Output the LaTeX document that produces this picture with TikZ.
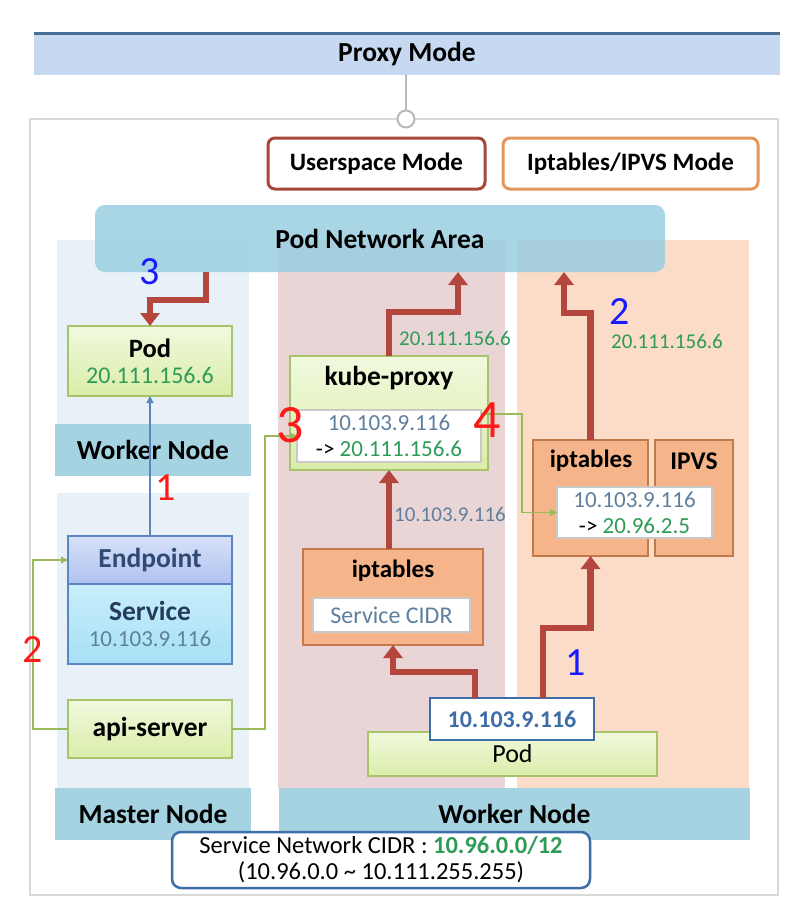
\documentclass[tikz,border=0pt]{standalone}
\usepackage{fontspec}
\setmainfont{Carlito}
\usetikzlibrary{arrows.meta,positioning,calc}
\definecolor{bannerfill}{HTML}{C6D9F1}
\definecolor{bannerline}{HTML}{4A6F96}
\definecolor{framegray}{HTML}{D9D9D9}
\definecolor{userred}{HTML}{A5473B}
\definecolor{iporange}{HTML}{E3975D}
\definecolor{leftbg}{HTML}{E9F1F8}
\definecolor{midbg}{HTML}{EAD5D6}
\definecolor{rightbg}{HTML}{FADCC8}
\definecolor{bandblue}{HTML}{A5D3E1}
\definecolor{pnablue}{HTML}{9ACFE0}
\definecolor{boxgreen}{HTML}{A8C46A}
\definecolor{gtop}{HTML}{F1F9DE}
\definecolor{gbot}{HTML}{DAEDA9}
\definecolor{ofill}{HTML}{F5B48A}
\definecolor{obord}{HTML}{C27A4A}
\definecolor{wbord}{HTML}{C9C9C9}
\definecolor{epborder}{HTML}{5B86C0}
\definecolor{eptop}{HTML}{D7E0F8}
\definecolor{epbot}{HTML}{AFC2F0}
\definecolor{svtop}{HTML}{C9EEFB}
\definecolor{svbot}{HTML}{A6E0F5}
\definecolor{eptext}{HTML}{2F4A73}
\definecolor{iptext}{HTML}{5F7F9E}
\definecolor{ipgreen}{HTML}{2E9B57}
\definecolor{arrred}{HTML}{B5463E}
\definecolor{linegreen}{HTML}{9BBB59}
\definecolor{ipblue}{HTML}{3E6DA8}
\definecolor{penred}{HTML}{FF1A1A}
\definecolor{penblue}{HTML}{1A1AFF}
\newcommand\ttlfont{\fontsize{27.5}{30}\selectfont\bfseries}
\newcommand\subfont{\fontsize{25}{28}\selectfont\bfseries}
\newcommand\ipfont{\fontsize{23}{26}\selectfont}
\newcommand\lblfont{\fontsize{21}{24}\selectfont}
\newcommand\notefont{\fontsize{40}{40}\selectfont}
\begin{document}
\begin{tikzpicture}[x=1pt,y=-1pt,
  every node/.style={inner sep=0pt, outer sep=0pt, align=center},
  band/.style={fill=bandblue, font=\ttlfont, minimum height=52pt},
  modebox/.style={draw=#1, line width=3pt, rounded corners=7pt, fill=white, font=\subfont, minimum height=51pt},
  greenbox/.style={draw=boxgreen, line width=1.5pt, top color=gtop, bottom color=gbot},
  orangebox/.style={draw=obord, line width=1.5pt, fill=ofill},
  whitebox/.style={draw=wbord, line width=1.2pt, fill=white},
  redarrow/.style={draw=arrred, line width=6.5pt, -{Triangle[width=19pt,length=13pt]}},
  thinarrow/.style={draw=#1, line width=1.5pt, -{Triangle[width=7pt,length=7pt]}},
  note/.style={font=\notefont, text=#1}]
\useasboundingbox[fill=white] (0,0) rectangle (795,916);

% banner and frame
\node[fill=bannerfill, minimum width=746pt, minimum height=42pt, font=\ttlfont] (pm) at (407,54) {Proxy Mode};
\draw[bannerline, line width=3pt] (pm.north west) -- (pm.north east);
\draw[framegray, line width=2.5pt] (30,119) rectangle (778,895);
\node[circle, draw=gray!55, line width=2pt, fill=white, minimum size=17pt] (knob) at (406,119) {};
\draw[gray!55, line width=1.2pt] (knob |- pm.south) -- (knob.north);

\node[modebox=userred, minimum width=217pt] (us) at (376.5,163.5) {Userspace Mode};
\node[modebox=iporange, minimum width=255pt] (it) at (630.5,163.5) {Iptables/IPVS Mode};

% node areas
\fill[leftbg] (57,240) rectangle (249,424);
\fill[leftbg] (57,493) rectangle (249,788);
\fill[midbg] (278,240) rectangle (505,788);
\fill[rightbg] (517,240) rectangle (749,788);
\node[band, minimum width=196pt] (wnl) at (153,450) {Worker Node};
\node[band, minimum width=196pt] (mnl) at (153,814) {Master Node};
\node[band, minimum width=471pt] (wnr) at (514.5,814) {Worker Node};

\node[fill=pnablue, fill opacity=0.85, text opacity=1, rounded corners=10pt,
  minimum width=570pt, minimum height=67pt, font=\ttlfont] (pna) at (380,238.5) {Pod Network Area};

% master / worker (left)
\node[greenbox, minimum width=164pt, minimum height=70pt, font=\ipfont] (lpod) at (150,361)
  {{\fontsize{26.5}{28}\selectfont\bfseries Pod}\\ \textcolor{ipgreen}{\fontsize{24}{26}\selectfont 20.111.156.6}};
\node[draw=epborder, line width=1.5pt, top color=eptop, bottom color=epbot,
  minimum width=164pt, minimum height=48pt, font=\ttlfont, text=eptext] (ep) at (150,560) {Endpoint};
\node[draw=epborder, line width=1.5pt, top color=svtop, bottom color=svbot,
  minimum width=164pt, minimum height=80pt, font=\ipfont] (svc) at (150,624)
  {\ttlfont\color{eptext!80!black}Service\\ \ipfont\textcolor{iptext}{10.103.9.116}};
\node[greenbox, minimum width=164pt, minimum height=58pt, font=\ttlfont] (api) at (150,729) {api-server};

% userspace (middle)
\node[greenbox, minimum width=198pt, minimum height=114pt] (kp) at (389,413) {};
\node[font=\ttlfont] (kpt) at (389,378) {kube-proxy};
\node[whitebox, minimum width=184pt, minimum height=52pt, font=\ipfont] (kpin) at (389,436)
  {\textcolor{iptext}{10.103.9.116}\\ -> \textcolor{ipgreen}{20.111.156.6}};
\node[orangebox, minimum width=180pt, minimum height=96pt] (mipt) at (393,597) {};
\node[font=\subfont] (miptt) at (393,571) {iptables};
\node[whitebox, minimum width=157pt, minimum height=34pt, font=\fontsize{24}{26}\selectfont, text=iptext] (cidr) at (391.5,615) {Service CIDR};

% iptables / ipvs (right)
\node[orangebox, minimum width=115pt, minimum height=116pt] (ript) at (590.5,498) {};
\node[orangebox, minimum width=78pt, minimum height=116pt] (ipvs) at (694,498) {};
\node[font=\subfont] (riptt) at (591,461) {iptables};
\node[font=\fontsize{25.5}{28}\selectfont\bfseries] (ipvst) at (694,461) {IPVS};
\node[whitebox, minimum width=155pt, minimum height=51pt, font=\ipfont] (rin) at (634.5,512.5)
  {\textcolor{iptext}{10.103.9.116}\\ -> \textcolor{ipgreen}{20.96.2.5}};

% client pod
\node[greenbox, minimum width=289pt, minimum height=44pt, font=\fontsize{26}{28}\selectfont] (bpod) at (512.5,754) {\raisebox{-8pt}{Pod}};
\node[draw=ipblue, line width=2.5pt, fill=white, minimum width=164pt, minimum height=42pt,
  font=\fontsize{24}{26}\selectfont\bfseries, text=ipblue] (ipbox) at (512,719) {10.103.9.116};

% bends
\coordinate (c1) at (206,300);
\coordinate (c2) at (458,312);
\coordinate (c3) at (564,313);
\coordinate (c4) at (475,672);
\coordinate (c6) at (543,628);

\draw[redarrow] (c1 |- pna.south) -- (c1) -| (lpod.north);
\draw[redarrow] (kp.north) |- (c2) -- (c2 |- pna.south);
\draw[redarrow] (ript.north) |- (c3) -- (c3 |- pna.south);
\draw[redarrow] (kp.south |- mipt.north) -- (kp.south);
\draw[redarrow] (c4 |- ipbox.north) -- (c4) -| (mipt.south);
\draw[redarrow] (c6 |- ipbox.north) -- (c6) -| (ript.south);

\draw[thinarrow=epborder] (ep.north) -- (lpod.south);
\draw[thinarrow=linegreen] (api.west) -- ++(-35,0) |- (ep.west);
\draw[thinarrow=linegreen] (api.east) -- ++(33,0) |- (kpin.west);
\draw[thinarrow=linegreen] ([yshift=-4pt]kpin.north east) -- ++(41,0) |- (rin.west);

% arrow labels
\node[font=\lblfont, text=ipgreen] (l1) at (455,338) {20.111.156.6};
\node[font=\lblfont, text=iptext] (l2) at (450,514) {10.103.9.116};
\node[font=\lblfont, text=ipgreen] (l3) at (667,341) {20.111.156.6};

% service cidr
\node[draw=ipblue, line width=2.5pt, fill=white, rounded corners=9pt, minimum width=418pt,
  minimum height=56pt, font=\fontsize{24.5}{26}\selectfont] (snc) at (381,860)
  {Service Network CIDR : \textcolor{ipgreen}{\bfseries 10.96.0.0/12}\\ (10.96.0.0 \textasciitilde{} 10.111.255.255)};

% pen notes
\node[note=penblue] (n3b) at (150,272) {3};
\node[note=penblue] (n2b) at (620,312) {2};
\node[note=penblue] (n1b) at (576,663) {1};
\node[note=penred] (n1r) at (166,488) {1};
\node[note=penred] (n2r) at (33,650) {2};
\node[note=penred, font=\fontsize{54}{54}\selectfont] (n3r) at (290,425) {3};
\node[note=penred, font=\fontsize{54}{54}\selectfont] (n4r) at (487,420) {4};
\end{tikzpicture}
\end{document}
